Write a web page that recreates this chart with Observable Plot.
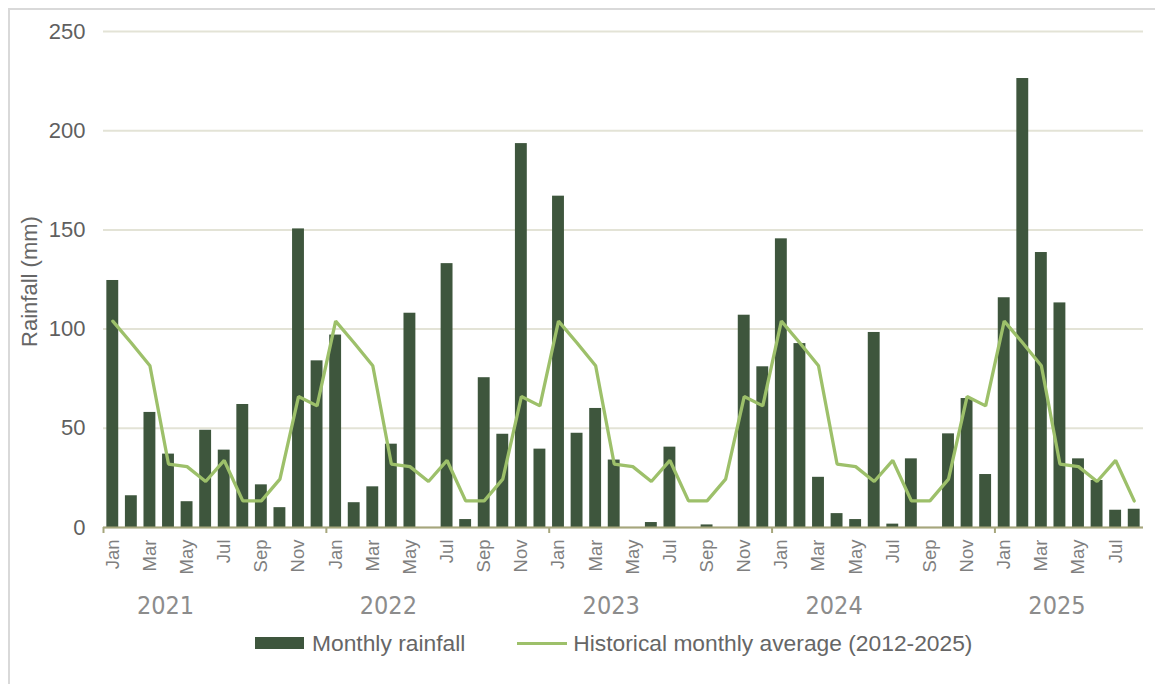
<!DOCTYPE html>
<html>
<head>
<meta charset="utf-8">
<script src="https://cdn.jsdelivr.net/npm/d3@7"></script>
<script src="https://cdn.jsdelivr.net/npm/@observablehq/plot@0.6"></script>
<style>
  html, body { margin: 0; padding: 0; background: #ffffff; overflow: hidden; width: 1155px; height: 684px; }
  #frame { position: absolute; left: 8px; top: 8px; width: 1300px; height: 800px; border: 2px solid #d9d9d9; box-sizing: border-box; }
  #chart { position: absolute; left: 0; top: 0; }
  #legend { position: absolute; left: 255px; top: 630px; height: 26px; display: flex; align-items: center;
            font-family: "Liberation Sans", Arial, sans-serif; font-size: 22.8px; color: #666666; white-space: nowrap; }
  .sw-bar { width: 49px; height: 12px; background: #3e563d; margin-right: 8px; }
  .sw-line { width: 50px; height: 3px; background: #9dc06a; margin-left: 52px; margin-right: 6px; }
</style>
</head>
<body>
<div id="frame"></div>
<div id="chart"></div>
<div id="legend">
  <div class="sw-bar"></div><span>Monthly rainfall</span>
  <div class="sw-line"></div><span>Historical monthly average (2012-2025)</span>
</div>
<script>
const months = ["Jan","Feb","Mar","Apr","May","Jun","Jul","Aug","Sep","Oct","Nov","Dec"];
const years = ["2021", "2022", "2023", "2024", "2025"];
const monthlyRainfall = [
  124.5, 16, 58, 37, 13, 49, 39, 62, 21.5, 10, 150.5, 84,
  97, 12.5, 20.5, 42, 108, 0, 133, 4, 75.5, 47, 193.5, 39.5,
  167, 47.5, 60, 34, 0, 2.5, 40.5, 0, 1.3, 0, 107, 81,
  145.5, 92.7, 25.3, 7, 4, 98.3, 1.7, 34.6, 0, 47.2, 65, 26.7,
  115.8, 226.3, 138.6, 113.2, 34.6, 23.7, 8.7, 9.2
];
const historicalAverage = [104, 93, 81.5, 32, 30.7, 23.2, 33.8, 13.4, 13.4, 24.4, 66, 61.3];
const yTicks = [0, 50, 100, 150, 200, 250];

const table = [];
years.forEach((yr, yi) => months.forEach((m, mi) => {
  const i = yi * 12 + mi;
  if (i < monthlyRainfall.length) {
    table.push({key: `${yr}-${String(mi + 1).padStart(2, "0")}`, year: yr, mi, month: m,
                rain: monthlyRainfall[i], avg: historicalAverage[mi]});
  }
}));

const W = 1155, H = 630, ML = 103, MR = 12, MT = 31, MB = 103;
const step = (W - ML - MR) / table.length;
const font = "'Liberation Sans', Arial, sans-serif";
const narrow = "'Liberation Sans Narrow', 'Arial Narrow', 'DejaVu Sans Condensed', sans-serif";

const chart = Plot.plot({
  width: W, height: H,
  marginLeft: ML, marginRight: MR, marginTop: MT, marginBottom: MB,
  style: {background: "transparent", fontFamily: font},
  x: {type: "band", domain: table.map(d => d.key), paddingInner: 0.36, paddingOuter: 0.18},
  y: {domain: [0, 250]},
  marks: [
    Plot.gridY(yTicks, {stroke: "#e3e3d6", strokeOpacity: 1, strokeWidth: 2}),
    Plot.barY(table, {x: "key", y: "rain", fill: "#3e563d"}),
    Plot.ruleY([0], {stroke: "#a6a67c", strokeWidth: 2}),
    Plot.line(table, {x: "key", y: "avg", stroke: "#9dc06a", strokeWidth: 3.3, strokeLinejoin: "miter"}),
    Plot.axisY(yTicks, {tickSize: 0, tickPadding: 18, fontSize: 22, fill: "#5f5f5f", label: null}),
    Plot.axisX(table.filter(d => d.mi % 2 === 0).map(d => d.key), {
      tickSize: 0, tickRotate: -90, tickPadding: 12, fontSize: 18.5, fill: "#7f7f7f", label: null,
      tickFormat: k => months[+k.slice(5) - 1]
    }),
    Plot.axisX(table.filter(d => d.mi === 0).map(d => d.key), {
      tickSize: 6, text: null, stroke: "#a6a67c", strokeWidth: 2, dx: -step / 2, label: null
    }),
    Plot.text(years, {x: d => `${d}-04`, text: d => d, frameAnchor: "bottom", dy: 86, dx: -3,
      fontSize: 25, fontFamily: narrow, fill: "#8c8c8c"}),
    Plot.text(["Rainfall (mm)"], {frameAnchor: "left", textAnchor: "middle", dx: -74, dy: 2, rotate: -90,
      fontSize: 22, fill: "#666666", letterSpacing: "2.5px"})
  ]
});
document.getElementById("chart").appendChild(chart);
</script>
</body>
</html>
